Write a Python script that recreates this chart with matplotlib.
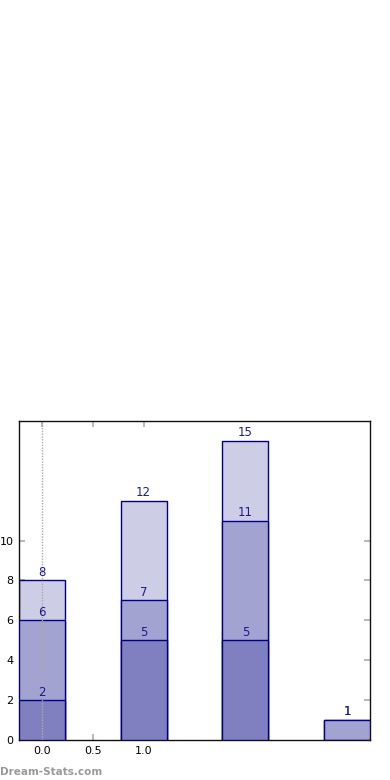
import numpy as np
import matplotlib
matplotlib.use("Agg")
import matplotlib.pyplot as plt

# stacked layers per bar
positions = [0, 1, 2, 3]
layer_low = [2, 5, 5, 0]
layer_mid = [4, 2, 6, 1]
layer_top = [2, 5, 4, 0]
xtick_vals = [0.0, 0.5, 1.0]
xtick_labels = ["0.0", "0.5", "1.0"]
ytick_vals = [0, 2, 4, 6, 8, 10]

colors = ["#8080c0", "#a3a3d1", "#cdcde6"]
edge = "#000080"

low = np.array(layer_low)
mid = low + np.array(layer_mid)
top = mid + np.array(layer_top)

fig = plt.figure(figsize=(3.9, 7.8), dpi=100)
ax = fig.add_axes([0.0487, 0.0513, 0.9, 0.409])

w = 0.45
# draw tallest first so smaller ones sit on top
ax.bar(positions, top, width=w, color=colors[2], edgecolor=edge, linewidth=1, zorder=2)
ax.bar(positions, mid, width=w, color=colors[1], edgecolor=edge, linewidth=1, zorder=3)
ax.bar(positions, low, width=w, color=colors[0], edgecolor=edge, linewidth=1, zorder=4)

for x, a, b, c in zip(positions, low, mid, top):
    for v in (a, b, c):
        if v > 0:
            ax.text(x, v + 0.08, str(v), ha="center", va="bottom", fontsize=8.5,
                    color="#1a1a8c", zorder=6)

ax.axvline(0, color="#aaaaaa", linestyle=(0, (1, 1)), linewidth=1, zorder=5)

ax.set_xlim(-0.225, 3.225)
ax.set_ylim(0, 16)
ax.set_xticks(xtick_vals)
ax.set_xticklabels(xtick_labels)
ax.set_yticks(ytick_vals)
ax.tick_params(direction="in", length=4, width=1.5, color="#bbbbbb", labelsize=8,
               top=True, right=True, pad=4)
for s in ax.spines.values():
    s.set_color("#111111")
    s.set_linewidth(1)

fig.text(0.0, 0.004, "Dream-Stats.com", fontsize=7.5, fontweight="bold", color="#999999",
         ha="left", va="bottom")

fig.savefig("out.png", dpi=100)
